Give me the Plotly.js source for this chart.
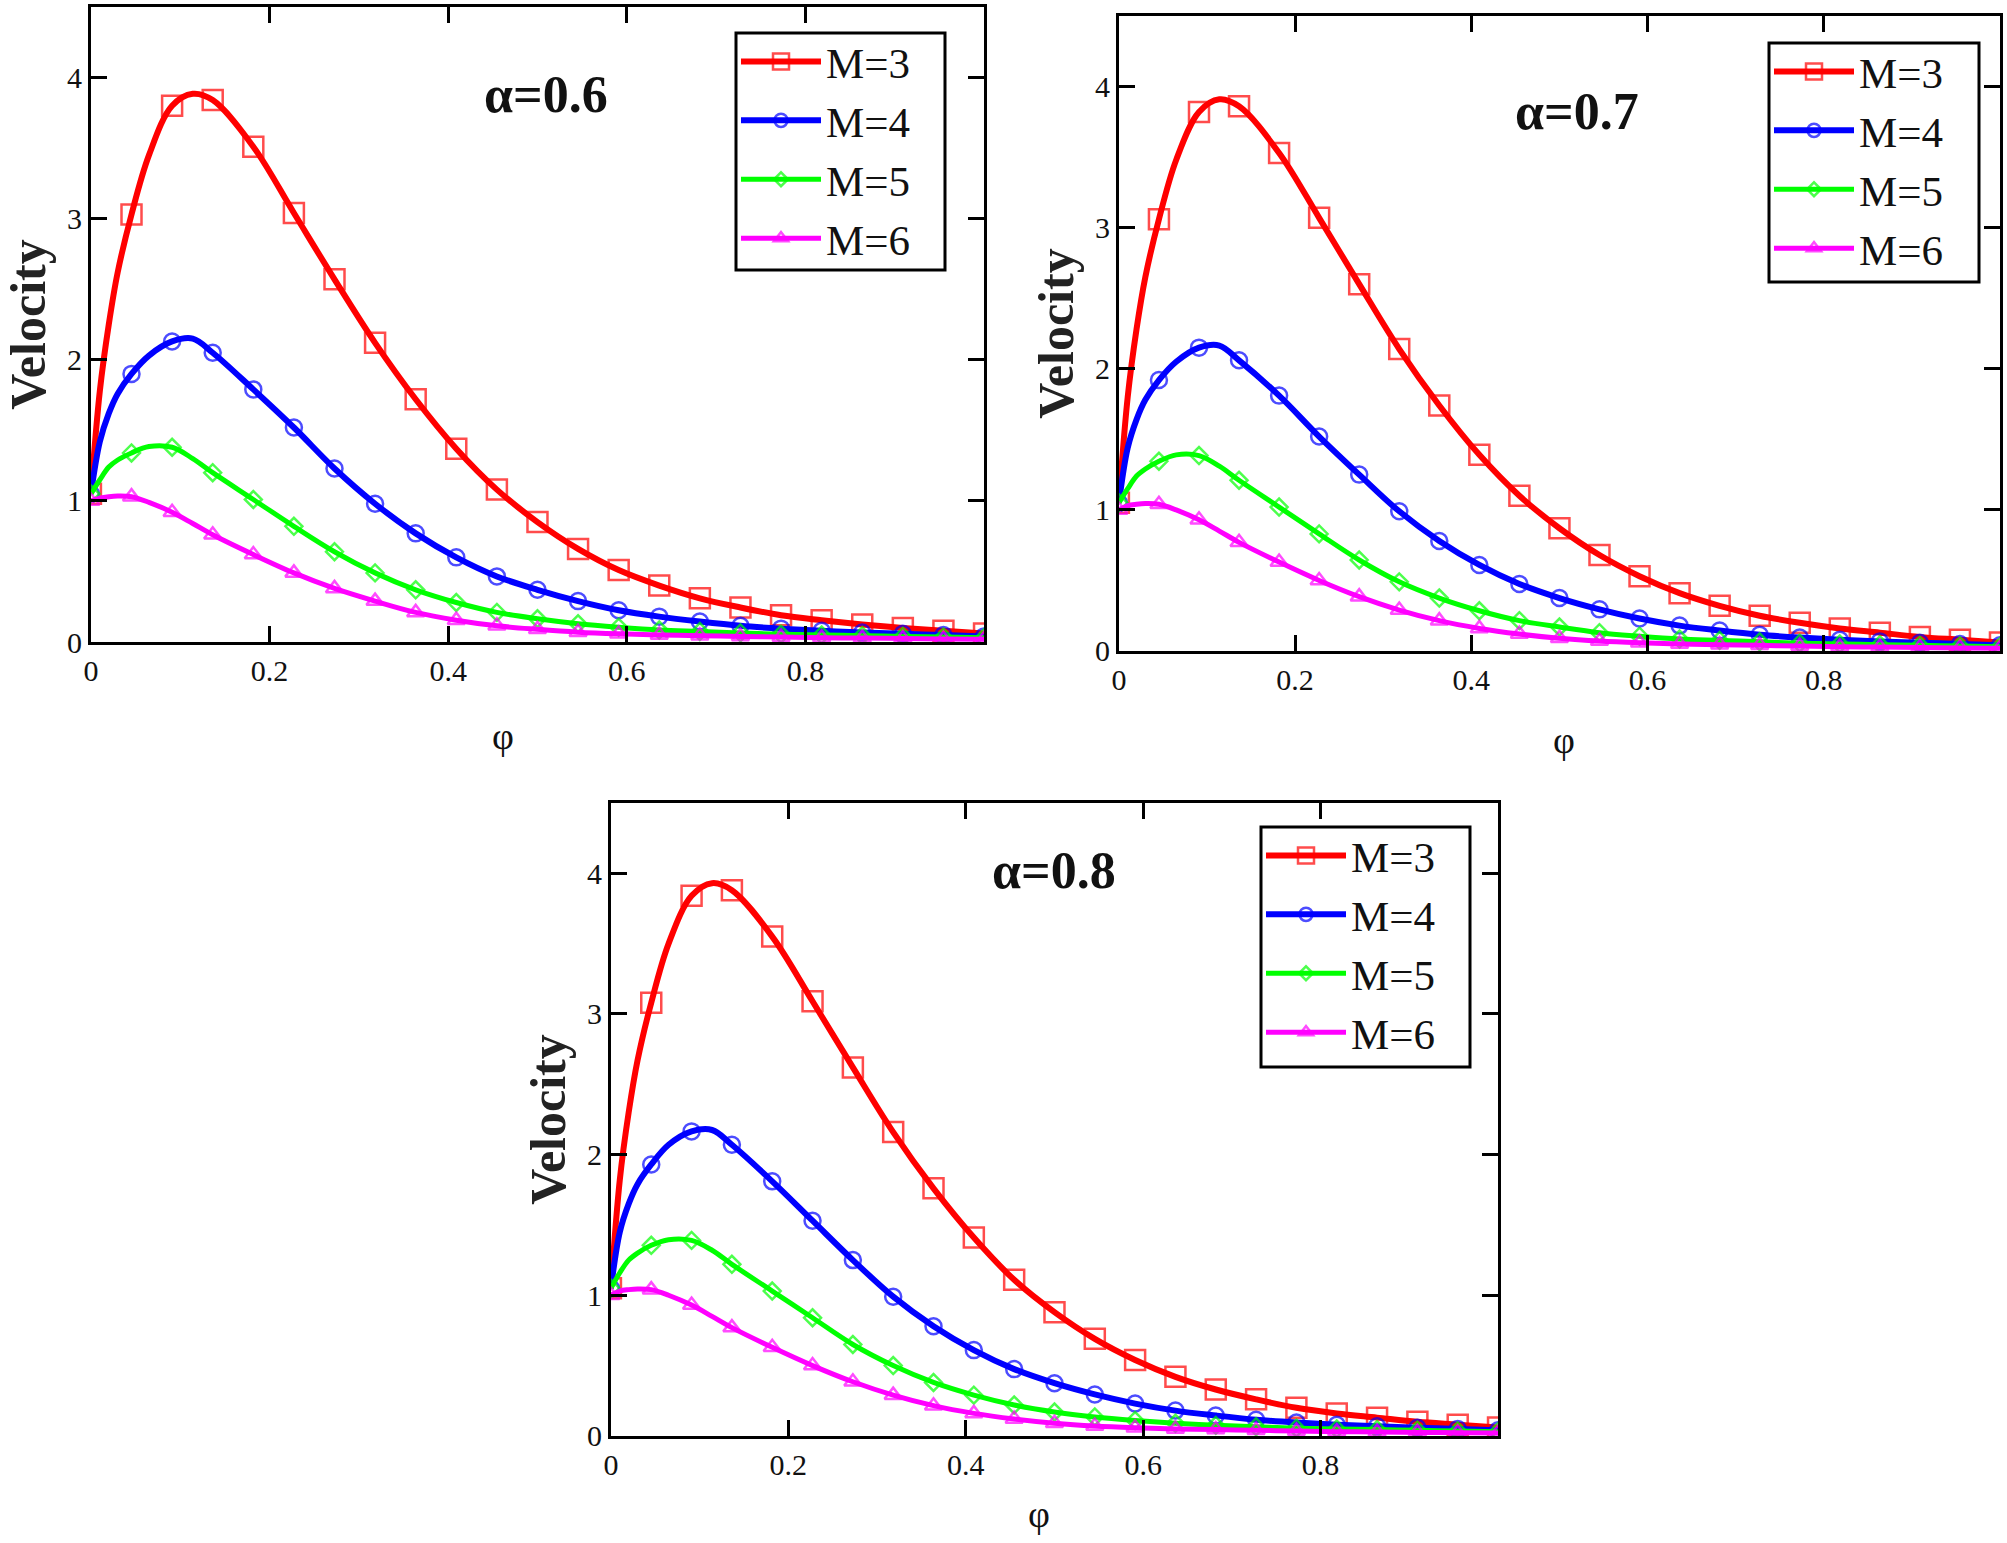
<!DOCTYPE html>
<html><head><meta charset="utf-8">
<script src="https://cdn.plot.ly/plotly-3.0.1.min.js"></script>
<style>html,body{margin:0;padding:0;background:#fff}#chart{width:2007px;height:1543px}</style>
</head><body><div id="chart"></div>
<script>
// phi sample positions (markers sit at multiples of 1/22)
const phi = [0, 0.01, 0.02, 0.03, 0.04545, 0.065, 0.09091, 0.114, 0.13636, 0.18182, 0.22727, 0.27273, 0.31818, 0.36364, 0.40909, 0.45455, 0.5, 0.54545, 0.59091, 0.63636, 0.68182, 0.72727, 0.77273, 0.81818, 0.86364, 0.90909, 0.95455, 1.0];
const seriesNames = ['M=3', 'M=4', 'M=5', 'M=6'];
const alphaLabels = ['α=0.6', 'α=0.7', 'α=0.8'];
const xTitle = 'φ';
const yTitle = 'Velocity';
const xTickVals = [0, 0.2, 0.4, 0.6, 0.8];
const xTickText = ['0', '0.2', '0.4', '0.6', '0.8'];
const yTickVals = [0, 1, 2, 3, 4];
const yTickText = ['0', '1', '2', '3', '4'];

// alpha = 0.6
const a06_M3 = [1.05, 1.78, 2.25, 2.62, 3.03, 3.45, 3.80, 3.885, 3.84, 3.51, 3.04, 2.57, 2.12, 1.72, 1.37, 1.08, 0.85, 0.66, 0.51, 0.40, 0.31, 0.245, 0.19, 0.155, 0.125, 0.10, 0.08, 0.06];
const a06_M4 = [1.05, 1.42, 1.62, 1.76, 1.90, 2.03, 2.13, 2.15, 2.05, 1.79, 1.52, 1.23, 0.98, 0.77, 0.60, 0.465, 0.37, 0.29, 0.225, 0.18, 0.145, 0.115, 0.095, 0.08, 0.068, 0.058, 0.05, 0.04];
const a06_M5 = [1.05, 1.15, 1.24, 1.29, 1.34, 1.385, 1.38, 1.30, 1.20, 1.01, 0.82, 0.64, 0.49, 0.37, 0.28, 0.21, 0.165, 0.13, 0.105, 0.085, 0.075, 0.065, 0.055, 0.05, 0.045, 0.04, 0.035, 0.03];
const a06_M6 = [1.0, 1.02, 1.03, 1.035, 1.03, 0.99, 0.92, 0.84, 0.76, 0.62, 0.49, 0.38, 0.29, 0.21, 0.155, 0.115, 0.09, 0.07, 0.058, 0.05, 0.045, 0.04, 0.035, 0.03, 0.028, 0.025, 0.022, 0.02];
// alpha = 0.7
const a07_M3 = [1.05, 1.80, 2.28, 2.65, 3.06, 3.48, 3.82, 3.91, 3.86, 3.53, 3.07, 2.60, 2.14, 1.74, 1.39, 1.10, 0.87, 0.68, 0.53, 0.41, 0.32, 0.25, 0.20, 0.16, 0.13, 0.10, 0.08, 0.06];
const a07_M4 = [1.05, 1.44, 1.64, 1.78, 1.92, 2.05, 2.15, 2.165, 2.06, 1.81, 1.52, 1.25, 0.99, 0.78, 0.61, 0.475, 0.375, 0.295, 0.23, 0.18, 0.145, 0.115, 0.095, 0.08, 0.068, 0.058, 0.05, 0.04];
const a07_M5 = [1.05, 1.15, 1.24, 1.29, 1.345, 1.39, 1.385, 1.31, 1.21, 1.02, 0.83, 0.645, 0.49, 0.375, 0.285, 0.215, 0.17, 0.13, 0.105, 0.085, 0.075, 0.065, 0.055, 0.05, 0.045, 0.04, 0.035, 0.03];
const a07_M6 = [1.0, 1.03, 1.04, 1.045, 1.04, 1.0, 0.93, 0.85, 0.77, 0.63, 0.50, 0.385, 0.29, 0.215, 0.16, 0.12, 0.09, 0.07, 0.058, 0.05, 0.045, 0.04, 0.035, 0.03, 0.028, 0.025, 0.022, 0.02];
// alpha = 0.8
const a08_M3 = [1.05, 1.82, 2.30, 2.67, 3.08, 3.50, 3.84, 3.93, 3.88, 3.55, 3.09, 2.62, 2.16, 1.76, 1.41, 1.11, 0.88, 0.69, 0.54, 0.42, 0.33, 0.26, 0.20, 0.16, 0.13, 0.10, 0.08, 0.06];
const a08_M4 = [1.05, 1.45, 1.65, 1.79, 1.93, 2.07, 2.165, 2.175, 2.07, 1.81, 1.53, 1.25, 0.99, 0.78, 0.61, 0.475, 0.375, 0.295, 0.23, 0.18, 0.145, 0.115, 0.095, 0.08, 0.068, 0.058, 0.05, 0.04];
const a08_M5 = [1.05, 1.16, 1.25, 1.30, 1.355, 1.395, 1.39, 1.32, 1.22, 1.03, 0.84, 0.65, 0.50, 0.38, 0.29, 0.22, 0.17, 0.135, 0.11, 0.09, 0.075, 0.065, 0.055, 0.05, 0.045, 0.04, 0.035, 0.03];
const a08_M6 = [1.0, 1.03, 1.04, 1.045, 1.04, 1.0, 0.93, 0.85, 0.77, 0.63, 0.50, 0.385, 0.29, 0.215, 0.16, 0.12, 0.09, 0.07, 0.058, 0.05, 0.045, 0.04, 0.035, 0.03, 0.028, 0.025, 0.022, 0.02];

const panels = [
  [a06_M3, a06_M4, a06_M5, a06_M6],
  [a07_M3, a07_M4, a07_M5, a07_M6],
  [a08_M3, a08_M4, a08_M5, a08_M6]
];

// styles and placement
const W = 2007, H = 1543;
const colors = ['#ff0000', '#0000ff', '#00ff00', '#ff00ff'];
const symbols = ['square-open', 'circle-open', 'diamond-open', 'triangle-up-open'];
const msizes = [20, 16, 13, 15];
const lwidths = [6, 6, 5, 5];
const isMarker = phi.map(v => Math.abs(v * 22 - Math.round(v * 22)) < 0.01);

const serif = 'Liberation Serif, Times New Roman, serif';
const xDomains = [[0.0453, 0.4903], [0.5575, 0.9965], [0.3044, 0.7464]];
const yDomains = [[0.5839, 0.9955], [0.5781, 0.9896], [0.0694, 0.4796]];
// legend boxes in page pixels: [left, top, right, bottom]
const legendBox = [[736, 33, 945, 270], [1769, 43, 1979, 282], [1261, 827, 1470, 1067]];
const annPos = [[0.51, 3.88], [0.52, 3.82], [0.50, 4.02]];
const xTitlePx = [[503, 736], [1564, 740], [1039, 1514]];

const traces = [];
const layout = {
  width: W, height: H,
  margin: {l: 0, r: 0, t: 0, b: 0},
  paper_bgcolor: '#fff', plot_bgcolor: '#fff',
  showlegend: true,
  annotations: [], shapes: []
};

panels.forEach((series, p) => {
  const sfx = p === 0 ? '' : String(p + 1);
  const legendId = 'legend' + sfx;
  series.forEach((ys, s) => {
    traces.push({
      type: 'scatter', mode: 'lines+markers',
      x: phi, y: ys, name: seriesNames[s],
      xaxis: 'x' + sfx, yaxis: 'y' + sfx,
      legend: legendId, legendgroup: 'p' + p + 's' + s,
      line: {color: colors[s], width: lwidths[s], shape: 'spline', smoothing: 1},
      marker: {symbol: symbols[s], color: colors[s],
               size: isMarker.map(m => m ? msizes[s] : 0),
               line: {color: colors[s], width: 2.5}},
      hoverinfo: 'x+y'
    });
  });
  const axBase = {
    ticks: 'inside', ticklen: 16, tickwidth: 3, tickcolor: '#000',
    showline: true, linewidth: 3, linecolor: '#000', mirror: 'ticks',
    showgrid: false, zeroline: false,
    tickfont: {family: serif, size: 30, color: '#111'}
  };
  layout['xaxis' + sfx] = Object.assign({}, axBase, {
    domain: xDomains[p], anchor: 'y' + sfx, range: [0, 1],
    tickmode: 'array', tickvals: xTickVals, ticktext: xTickText
  });
  layout['yaxis' + sfx] = Object.assign({}, axBase, {
    domain: yDomains[p], anchor: 'x' + sfx, range: [0, 4.5],
    tickmode: 'array', tickvals: yTickVals, ticktext: yTickText,
    title: {text: '<b>' + yTitle + '</b>', font: {family: serif, size: 50, color: '#222'}, standoff: 6}
  });
  const b = legendBox[p];
  layout.shapes.push({
    type: 'rect', xref: 'paper', yref: 'paper', layer: 'above',
    x0: b[0] / W, x1: b[2] / W, y0: 1 - b[3] / H, y1: 1 - b[1] / H,
    line: {color: '#000', width: 3}, fillcolor: '#fff'
  });
  layout[legendId] = {
    x: b[0] / W, y: 1 - (b[1] - 6) / H, xanchor: 'left', yanchor: 'top',
    xref: 'paper', yref: 'paper',
    bgcolor: 'rgba(0,0,0,0)', borderwidth: 0,
    font: {family: serif, size: 43, color: '#111'},
    itemwidth: 80, tracegroupgap: 1, traceorder: 'normal'
  };
  layout.annotations.push({
    xref: 'x' + sfx, yref: 'y' + sfx, x: annPos[p][0], y: annPos[p][1],
    xanchor: 'center', yanchor: 'middle',
    text: '<b>' + alphaLabels[p] + '</b>', showarrow: false,
    font: {family: serif, size: 52, color: '#111'}
  });
  layout.annotations.push({
    xref: 'paper', yref: 'paper', x: xTitlePx[p][0] / W, y: 1 - xTitlePx[p][1] / H,
    xanchor: 'center', yanchor: 'middle', borderpad: 0,
    text: xTitle, showarrow: false,
    font: {family: serif, size: 38, color: '#111'}
  });
});

Plotly.newPlot('chart', traces, layout, {displayModeBar: false, staticPlot: true});
</script>
</body></html>
